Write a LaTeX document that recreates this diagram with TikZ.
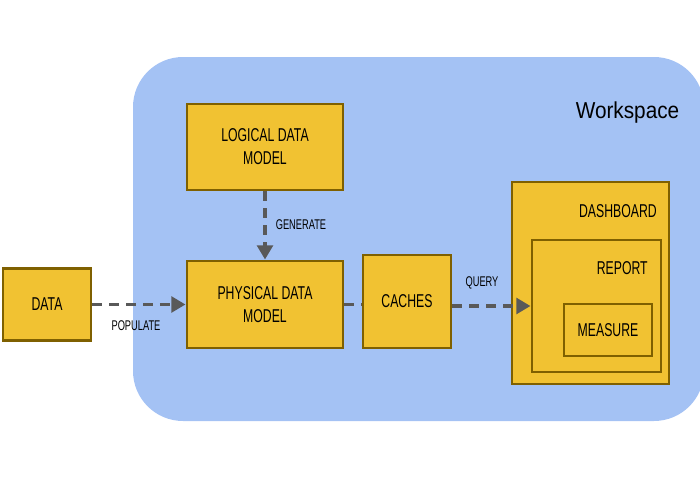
\documentclass[tikz,border=0pt]{standalone}
\usepackage{fontspec}
\setmainfont{Liberation Sans}[FakeStretch=0.66]
\newfontfamily\wsfont{Liberation Sans}[FakeStretch=0.9]
\usetikzlibrary{arrows.meta}

\definecolor{wsblue}{HTML}{A4C2F4}
\definecolor{boxfill}{HTML}{F1C232}
\definecolor{boxline}{HTML}{7F6000}
\definecolor{flowgray}{HTML}{595959}

\begin{document}
\begin{tikzpicture}[x=0.025cm, y=-0.025cm,
    ybox/.style={draw=boxline, fill=boxfill, line width=2.1pt, align=center,
                 font=\fontsize{13.2}{16.4}\selectfont, inner sep=0pt},
    boxsize/.style 2 args={minimum width=#1*0.025cm, minimum height=#2*0.025cm},
    flow/.style={draw=flowgray, line width=2.5pt, dash pattern=on 7pt off 5pt},
    tip/.style={-{Triangle[length=10pt, width=11pt]}},
    lbl/.style={font=\fontsize{10}{12}\selectfont, inner sep=0pt},
    inlbl/.style={font=\fontsize{13.2}{16.4}\selectfont, inner sep=0pt, anchor=east}]

\useasboundingbox (0,0) rectangle (700,500);

% workspace area
\fill[wsblue, rounded corners=1.25cm] (133,57) rectangle (704,421);
\node[font=\wsfont\fontsize{16.4}{19}\selectfont] (ws) at (627.5,113) {Workspace};

% boxes
\node[ybox, boxsize={88}{72}] (data) at (47,304.5) {DATA};
\node[ybox, boxsize={156}{86}] (logical) at (265,147) {LOGICAL DATA\\MODEL};
\node[ybox, boxsize={156}{87}] (physical) at (265,304.5) {PHYSICAL DATA\\MODEL};
\node[ybox, boxsize={88}{93}] (caches) at (407,301.5) {CACHES};

\node[ybox, boxsize={157}{202}] (dashboard) at (590.5,283) {};
\node[ybox, boxsize={129}{132}] (report) at (596.5,306) {};
\node[ybox, boxsize={88}{52}] (measure) at (608,330) {MEASURE};
\node[inlbl] (dashlbl) at (657,211) {DASHBOARD};
\node[inlbl] (replbl) at (648,268) {REPORT};

% flows
\draw[flow, tip] (data.east) -- (physical.west);
\draw[flow, tip] (logical.south) -- (physical.north);
\draw[flow] (physical.east) -- (physical.east -| caches.west);
\draw[flow, tip] (caches.east |- report.west) -- (report.west);

\node[lbl] (populate) at (136,326) {POPULATE};
\node[lbl] (generate) at (301,225) {GENERATE};
\node[lbl] (query) at (482,283) {QUERY};

\end{tikzpicture}
\end{document}
